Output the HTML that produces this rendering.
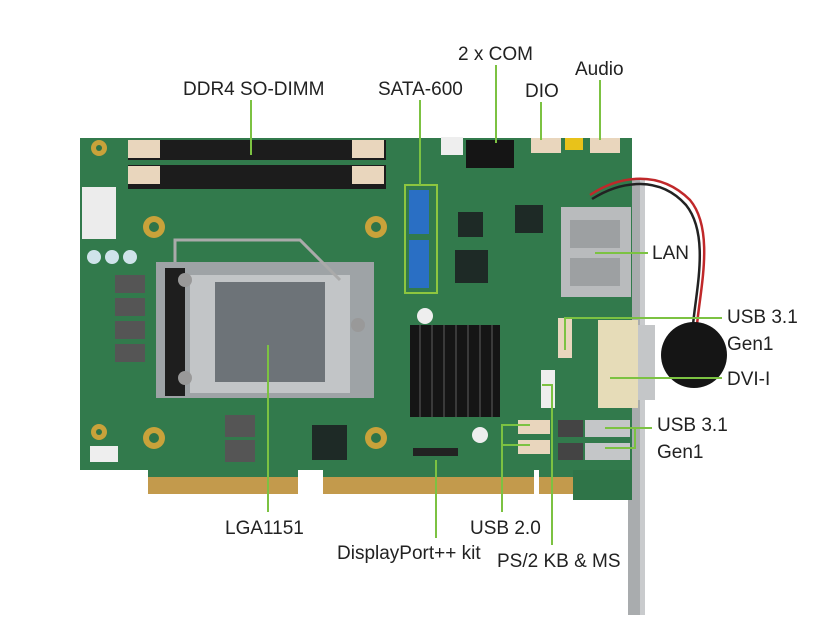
<!DOCTYPE html>
<html><head><meta charset="utf-8"><style>
html,body{margin:0;padding:0;background:#fff;width:836px;height:620px;overflow:hidden}
text{font-family:"Liberation Sans Narrow","Liberation Sans",sans-serif;font-size:19px;fill:#222}
</style></head><body>
<svg width="836" height="620" viewBox="0 0 836 620" xmlns="http://www.w3.org/2000/svg">
<!-- bracket -->
<rect x="628" y="180" width="16" height="435" fill="#a9acae"/>
<rect x="640" y="180" width="5" height="435" fill="#c9cbcd"/>
<!-- board -->
<rect x="80" y="138" width="552" height="332" fill="#327a4c"/>
<!-- fingers -->
<rect x="148" y="470" width="150" height="24" fill="#c39a4c"/>
<rect x="323" y="470" width="211" height="24" fill="#c39a4c"/>
<rect x="539" y="470" width="34" height="24" fill="#c39a4c"/>
<rect x="148" y="470" width="150" height="7" fill="#327a4c"/>
<rect x="323" y="470" width="211" height="7" fill="#327a4c"/>
<rect x="539" y="470" width="34" height="7" fill="#327a4c"/>
<rect x="573" y="470" width="59" height="30" fill="#2f7448"/>
<!-- DIMM -->
<rect x="128" y="140" width="258" height="20" fill="#1c1c1c"/>
<rect x="128" y="165" width="258" height="24" fill="#1c1c1c"/>
<rect x="128" y="140" width="32" height="18" fill="#e9d6bd"/><rect x="352" y="140" width="32" height="18" fill="#e9d6bd"/>
<rect x="128" y="166" width="32" height="18" fill="#e9d6bd"/><rect x="352" y="166" width="32" height="18" fill="#e9d6bd"/>
<!-- power connector -->
<rect x="82" y="187" width="34" height="52" fill="#ececec"/>
<circle cx="94" cy="257" r="7" fill="#cfe3ea"/><circle cx="112" cy="257" r="7" fill="#cfe3ea"/><circle cx="130" cy="257" r="7" fill="#cfe3ea"/>
<!-- inductors -->
<rect x="115" y="275" width="30" height="18" fill="#555"/><rect x="115" y="298" width="30" height="18" fill="#555"/><rect x="115" y="321" width="30" height="18" fill="#555"/><rect x="115" y="344" width="30" height="18" fill="#555"/>
<rect x="225" y="415" width="30" height="22" fill="#555"/><rect x="225" y="440" width="30" height="22" fill="#555"/>
<!-- mount holes -->
<g fill="#c9a23a"><circle cx="154" cy="227" r="11"/><circle cx="376" cy="227" r="11"/><circle cx="154" cy="438" r="11"/><circle cx="376" cy="438" r="11"/><circle cx="99" cy="148" r="8"/><circle cx="99" cy="432" r="8"/></g>
<g fill="#2f7448"><circle cx="154" cy="227" r="5"/><circle cx="376" cy="227" r="5"/><circle cx="154" cy="438" r="5"/><circle cx="376" cy="438" r="5"/><circle cx="99" cy="148" r="3"/><circle cx="99" cy="432" r="3"/></g>
<!-- socket -->
<rect x="156" y="262" width="218" height="136" fill="#9ea3a6"/>
<rect x="165" y="268" width="20" height="128" fill="#1e1e1e"/>
<rect x="190" y="275" width="160" height="118" fill="#c2c5c7"/>
<rect x="215" y="282" width="110" height="100" fill="#6d7378"/>
<circle cx="185" cy="280" r="7" fill="#999"/><circle cx="185" cy="378" r="7" fill="#999"/><circle cx="358" cy="325" r="7" fill="#999"/>
<path d="M175 262 V240 H300 L340 280" stroke="#aaa" stroke-width="3" fill="none"/>
<!-- SATA -->
<rect x="405" y="185" width="32" height="108" fill="none" stroke="#8dc63f" stroke-width="2"/>
<rect x="409" y="190" width="20" height="44" fill="#2a6fc4"/><rect x="409" y="240" width="20" height="48" fill="#2a6fc4"/>
<!-- chips -->
<rect x="455" y="250" width="33" height="33" fill="#1e2a26"/>
<rect x="458" y="212" width="25" height="25" fill="#1e2a26"/>
<rect x="515" y="205" width="28" height="28" fill="#1e2a26"/>
<rect x="312" y="425" width="35" height="35" fill="#1e2a26"/>
<rect x="466" y="140" width="48" height="28" fill="#151515"/>
<rect x="441" y="137" width="22" height="18" fill="#eee"/>
<rect x="531" y="138" width="30" height="15" fill="#e9d6bd"/>
<rect x="590" y="138" width="30" height="15" fill="#e9d6bd"/>
<rect x="565" y="138" width="18" height="12" fill="#e8c21a"/>
<!-- heatsink -->
<rect x="410" y="325" width="90" height="92" fill="#151515"/>
<g stroke="#3a3a3a" stroke-width="2"><line x1="420" y1="325" x2="420" y2="417"/><line x1="432" y1="325" x2="432" y2="417"/><line x1="444" y1="325" x2="444" y2="417"/><line x1="456" y1="325" x2="456" y2="417"/><line x1="468" y1="325" x2="468" y2="417"/><line x1="480" y1="325" x2="480" y2="417"/><line x1="492" y1="325" x2="492" y2="417"/></g>
<circle cx="425" cy="316" r="8" fill="#eee"/><circle cx="480" cy="435" r="8" fill="#eee"/>
<rect x="413" y="448" width="45" height="8" fill="#222"/>
<!-- LAN -->
<rect x="561" y="207" width="70" height="90" fill="#b9bbbd"/>
<rect x="570" y="220" width="50" height="28" fill="#9da0a2"/><rect x="570" y="258" width="50" height="28" fill="#9da0a2"/>
<!-- DVI -->
<rect x="598" y="320" width="40" height="88" fill="#e6dcb8"/><rect x="638" y="325" width="17" height="75" fill="#c4c6c8"/>
<rect x="558" y="318" width="14" height="40" fill="#e9d6bd"/>
<rect x="541" y="370" width="14" height="38" fill="#eee"/>
<rect x="518" y="420" width="32" height="14" fill="#e9d6bd"/><rect x="518" y="440" width="32" height="14" fill="#e9d6bd"/>
<rect x="558" y="420" width="25" height="17" fill="#444"/><rect x="558" y="443" width="25" height="17" fill="#444"/>
<rect x="585" y="420" width="45" height="17" fill="#c4c6c8"/><rect x="585" y="443" width="45" height="17" fill="#c4c6c8"/>
<rect x="90" y="446" width="28" height="16" fill="#eee"/>
<!-- battery & wire -->
<path d="M590 195 C620 175 660 170 690 200 C715 230 700 290 697 325" stroke="#c0282a" stroke-width="2.5" fill="none"/>
<path d="M592 199 C622 180 660 176 686 205 C710 235 696 290 693 325" stroke="#222" stroke-width="2.5" fill="none"/>
<circle cx="694" cy="355" r="33" fill="#151515"/>
<!-- leader lines -->
<g stroke="#7cc242" stroke-width="2" fill="none">
<line x1="251" y1="100" x2="251" y2="155"/>
<line x1="420" y1="100" x2="420" y2="185"/>
<line x1="496" y1="65" x2="496" y2="143"/>
<line x1="541" y1="102" x2="541" y2="140"/>
<line x1="600" y1="80" x2="600" y2="140"/>
<line x1="595" y1="253" x2="648" y2="253"/>
<path d="M565 350 V318 H722"/>
<line x1="610" y1="378" x2="722" y2="378"/>
<path d="M605 428 H635 V448 H605 M635 428 H652"/>
<line x1="268" y1="345" x2="268" y2="512"/>
<line x1="436" y1="460" x2="436" y2="538"/>
<path d="M530 425 H502 V512 M502 445 H530"/>
<path d="M542 385 H552 V545"/>
</g>
<!-- labels -->
<text x="183" y="95">DDR4 SO-DIMM</text>
<text x="378" y="95">SATA-600</text>
<text x="458" y="60">2 x COM</text>
<text x="525" y="97">DIO</text>
<text x="575" y="75">Audio</text>
<text x="652" y="259">LAN</text>
<text x="727" y="323">USB 3.1</text>
<text x="727" y="350">Gen1</text>
<text x="727" y="385">DVI-I</text>
<text x="657" y="431">USB 3.1</text>
<text x="657" y="458">Gen1</text>
<text x="225" y="534">LGA1151</text>
<text x="337" y="559">DisplayPort++ kit</text>
<text x="470" y="534">USB 2.0</text>
<text x="497" y="567">PS/2 KB &amp; MS</text>
</svg>
</body></html>
